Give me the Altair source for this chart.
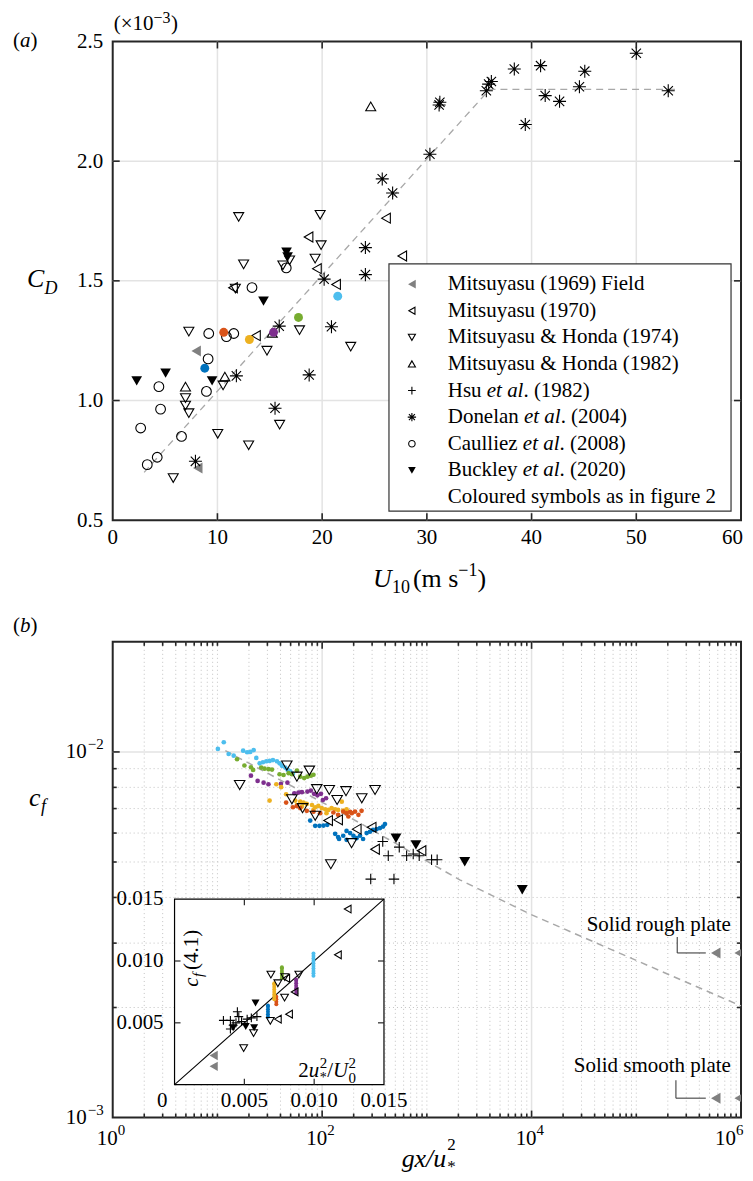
import altair as alt
import pandas as pd

FONT = "Liberation Serif"
FS = 21          # tick / legend font size
FT = 26          # axis title font size
FRAME = "#262626"
GRID = "#e3e3e3"
DOT = "#c2c2c2"
FIT = "#a8a8a8"
W, HA, HB = 630, 480, 477

C_LB, C_GR, C_PU, C_YE, C_OR, C_BL = "#4DBEEE", "#77AC30", "#7E2F8E", "#EDB120", "#D95319", "#0072BD"
GRAY = "#808080"
PLUS = "M-1,0L1,0M0,-1L0,1"
STAR = "M-1,0L1,0M0,-1L0,1M-0.72,-0.72L0.72,0.72M-0.72,0.72L0.72,-0.72"

# ---------------- panel (a): C_D (x 1e-3) against U10 (m/s) ----------------
a_m69_u = [7.97, 8.12]
a_m69_cd = [1.207, 0.718]
a_m70_u = [18.7, 26.1, 27.65, 19.5, 21.33, 11.49, 13.68]
a_m70_cd = [1.683, 1.762, 1.604, 1.551, 1.485, 1.471, 1.271]
a_mh74_u = [12.03, 19.81, 19.9, 16.89, 19.33, 12.5, 16.25, 11.71, 7.27, 17.84,
            22.73, 14.73, 10.54, 6.95, 6.95, 7.27, 15.94, 10.03, 12.98, 5.78]
a_mh74_cd = [1.767, 1.776, 1.649, 1.586, 1.593, 1.569, 1.565, 1.468, 1.288, 1.294,
             1.225, 1.208, 1.063, 1.010, 0.979, 0.947, 0.899, 0.861, 0.813, 0.676]
a_mh82_u = [24.64, 6.95, 10.71, 15.24]
a_mh82_cd = [2.229, 1.058, 1.100, 1.283]
a_don_u = [50.0, 38.35, 40.86, 45.08, 36.16, 35.9, 35.68, 31.24, 31.17, 44.57, 41.3, 42.67,
           39.4, 53.05, 30.29, 25.74, 26.73, 24.13, 24.13, 20.19, 15.9, 20.89, 11.81, 18.76, 15.5, 7.9]
a_don_cd = [2.451, 2.385, 2.399, 2.376, 2.333, 2.322, 2.294, 2.246, 2.235, 2.311, 2.274, 2.250,
            2.153, 2.294, 2.029, 1.926, 1.867, 1.639, 1.526, 1.507, 1.311, 1.308, 1.103, 1.107, 0.968, 0.746]
a_cau_u = [16.57, 13.3, 9.17, 10.86, 11.56, 9.11, 8.95, 4.41, 4.57, 2.67, 6.57, 4.25, 3.3]
a_cau_cd = [1.554, 1.472, 1.280, 1.267, 1.280, 1.174, 1.038, 1.058, 0.964, 0.885, 0.850, 0.763, 0.732]
a_buc_u = [16.6, 16.7, 14.4, 5.05, 2.29, 9.49]
a_buc_cd = [1.620, 1.600, 1.415, 1.114, 1.082, 1.082]
a_col_u = [21.49, 17.74, 15.36, 10.6, 13.05, 8.79]
a_col_cd = [1.436, 1.347, 1.285, 1.285, 1.255, 1.135]
a_col_c = [C_LB, C_GR, C_PU, C_OR, C_YE, C_BL]
a_fit_u = [3.0, 36.0, 54.0]
a_fit_cd = [0.70, 2.30, 2.30]
a_xlab = [0, 10, 20, 30, 40, 50]
a_xlab_last = [60]
a_ylab = [0.5, 1.0, 1.5, 2.0, 2.5]
a_xgrid = [10, 20, 30, 40, 50]
a_ygrid = [1.0, 1.5, 2.0]

leg_parts = [
    [("Mitsuyasu (1969) Field", False)],
    [("Mitsuyasu (1970)", False)],
    [("Mitsuyasu & Honda (1974)", False)],
    [("Mitsuyasu & Honda (1982)", False)],
    [("Hsu ", False), ("et al", True), (". (1982)", False)],
    [("Donelan ", False), ("et al", True), (". (2004)", False)],
    [("Caulliez ", False), ("et al", True), (". (2008)", False)],
    [("Buckley ", False), ("et al", True), (". (2020)", False)],
    [("Coloured symbols as in figure 2", False)],
]
leg_sym = [("triangle-left", True, GRAY, 80), ("triangle-left", False, "black", 50),
           ("triangle-down", False, "black", 50), ("triangle-up", False, "black", 50),
           (PLUS, False, "black", 60), (STAR, False, "black", 70),
           ("circle", False, "black", 42), ("triangle-down", True, "black", 60)]

# ---------------- panel (b): c_f against g x / u*^2 ----------------
b_lb_x = [10.1, 11.5, 12.8, 14.3, 17.6, 19.2, 20.6, 22.2, 23.5, 25.3, 27.2, 29.3, 31.5, 33.9, 37.0,
          39.2, 41.3, 44.4, 46.8, 49.6, 52.6]
b_lb_y = [0.01019, 0.01063, 0.00987, 0.00977, 0.01008, 0.00998, 0.01000, 0.01012, 0.00963, 0.00931,
          0.00937, 0.00943, 0.00945, 0.00950, 0.00943, 0.00931, 0.00916, 0.00906, 0.00893, 0.00885, 0.00871]
b_gr_x = [15.4, 18.1, 20.9, 21.9, 26.2, 28.2, 30.8, 33.2, 39.2, 42.8, 47.8, 51.4, 57.4, 61.7, 67.4,
          72.4, 78.0, 82.6]
b_gr_y = [0.00955, 0.00918, 0.00908, 0.00893, 0.00906, 0.00900, 0.00897, 0.00895, 0.00869, 0.00865,
          0.00875, 0.00869, 0.00889, 0.00856, 0.00848, 0.00856, 0.00861, 0.00866]
b_pu_x = [20.9, 24.2, 27.6, 30.7, 40.4, 46.6, 54.2, 59.4, 64.1, 72.4, 78.0, 83.8, 90.1, 97.4, 101.6, 109]
b_pu_y = [0.00861, 0.00833, 0.00824, 0.00816, 0.00818, 0.00824, 0.00771, 0.00774, 0.00776, 0.00779,
          0.00784, 0.00768, 0.00761, 0.00768, 0.00739, 0.00747]
b_ye_x = [31.5, 36.5, 40.6, 45.3, 55.3, 57.4, 61.7, 64.1, 66.3, 71.3, 80.0, 82.6, 85.8, 92.0, 99.0,
          107, 110, 115, 123, 133, 142, 154, 159, 171]
b_ye_y = [0.00736, 0.00816, 0.00801, 0.00766, 0.00736, 0.00716, 0.00731, 0.00709, 0.00727, 0.00721,
          0.00716, 0.00694, 0.00706, 0.00712, 0.00702, 0.00697, 0.00680, 0.00694, 0.00702, 0.00697,
          0.00694, 0.00731, 0.00691, 0.00697]
b_or_x = [45.3, 52.6, 57.4, 61.7, 71.3, 82.6, 95.7, 128, 142, 159, 171, 178, 185, 192, 206, 222, 238]
b_or_y = [0.00727, 0.00706, 0.00711, 0.00702, 0.00690, 0.00686, 0.00680, 0.00683, 0.00673, 0.00687,
          0.00680, 0.00666, 0.00686, 0.00680, 0.00687, 0.00673, 0.00690]
b_bl_x = [76.9, 85.8, 94.2, 103, 112, 133, 142, 145, 159, 171, 171, 185, 199, 213, 230, 246, 266,
          286, 306, 331, 357, 382, 398]
b_bl_y = [0.00649, 0.00628, 0.00628, 0.00629, 0.00632, 0.00597, 0.00585, 0.00578, 0.00590, 0.00608,
          0.00575, 0.00600, 0.00590, 0.00581, 0.00590, 0.00578, 0.00600, 0.00605, 0.00612, 0.00615,
          0.00619, 0.00625, 0.00635]
b_mh74_x = [16.3, 46.0, 57.4, 75.5, 88.9, 117, 169, 239, 320, 139, 51.4, 65.0, 85.8, 191, 121]
b_mh74_y = [0.00812, 0.00918, 0.00856, 0.00889, 0.00791, 0.00787, 0.00781, 0.00747, 0.00787, 0.00739,
            0.00742, 0.00702, 0.00669, 0.00563, 0.00493]
b_m70_x = [114, 142, 214, 297, 320, 889]
b_m70_y = [0.00649, 0.00652, 0.00615, 0.00622, 0.00542, 0.00537]
b_buc_x = [507, 786, 2300, 8150]
b_buc_y = [0.00581, 0.00557, 0.00501, 0.00420]
b_hsu_x = [379, 428, 545, 641, 741, 845, 1109, 1254, 291, 485]
b_hsu_y = [0.00569, 0.00520, 0.00549, 0.00520, 0.00526, 0.00520, 0.00507, 0.00507, 0.00449, 0.00449]
b_plate_x = [5.74e5, 9.6e5, 5.74e5, 9.6e5]
b_plate_y = [0.00282, 0.00282, 0.00113, 0.00113]
b_fit_x = [11.9, 148, 2061, 9930, 1.0e5, 1.0e6]
b_fit_y = [0.01008, 0.00686, 0.00447, 0.00359, 0.00269, 0.00202]
b_lead_x = [2.46e5, 2.46e5, 2.39e5, 2.39e5]
b_lead_y = [0.00312, 0.00282, 0.001264, 0.00113]
b_lead_x2 = [2.46e5, 4.61e5, 2.39e5, 4.61e5]
b_lead_y2 = [0.00282, 0.00282, 0.00113, 0.00113]
b_note = ["Solid rough plate", "Solid smooth plate"]
b_note_x = [8.0e5, 8.0e5]
b_note_y = [0.00337, 0.00138]
b_xlab = [1, 100, 1e4]
b_xexp = ["0", "2", "4"]
b_xlab_last = [1e6]
b_xexp_last = ["6"]
b_ylab = [1e-2, 1e-3]
b_yexp = ["\u22122", "\u22123"]
b_major_x = [1e2, 1e4]
b_minor_x = [k * 10.0 ** n for n in range(6) for k in range(2, 10)] + [1e1, 1e3, 1e5]
b_major_y = [1e-2]
b_minor_y = [k * 1e-3 for k in range(2, 10)]

# ---------------- inset: c_f (4.1) against 2 u*^2 / U0^2 ----------------
i_lb_x = [0.00995] * 10
i_lb_y = [0.0088, 0.0090, 0.0092, 0.0094, 0.0096, 0.0098, 0.0100, 0.0102, 0.0104, 0.0106]
i_gr_x = [0.00769] * 6
i_gr_y = [0.0086, 0.0088, 0.0090, 0.0092, 0.0094, 0.0095]
i_pu_x = [0.00871] * 7
i_pu_y = [0.0074, 0.0076, 0.0078, 0.0080, 0.0082, 0.0084, 0.0085]
i_ye_x = [0.00714] * 8
i_ye_y = [0.0069, 0.0071, 0.0073, 0.0075, 0.0077, 0.0079, 0.0081, 0.0082]
i_or_x = [0.00729] * 4
i_or_y = [0.0065, 0.0067, 0.0069, 0.0071]
i_bl_x = [0.00669] * 6
i_bl_y = [0.0055, 0.0057, 0.0059, 0.0061, 0.0063, 0.0064]
i_mh74_x = [0.0069, 0.0074, 0.0079, 0.0089, 0.00788, 0.00686, 0.00566, 0.00495]
i_mh74_y = [0.0089, 0.0082, 0.0087, 0.0089, 0.00704, 0.00516, 0.00417, 0.00296]
i_m70_x = [0.0124, 0.0117, 0.0082, 0.0074, 0.0086, 0.0080]
i_m70_y = [0.0142, 0.0105, 0.0057, 0.0053, 0.0075, 0.0086]
i_buc_x = [0.0042, 0.0051, 0.0057, 0.0058]
i_buc_y = [0.0046, 0.0047, 0.0046, 0.0066]
i_hsu_x = [0.0035, 0.0040, 0.0045, 0.0046, 0.0048, 0.0042, 0.0040, 0.0052, 0.0055, 0.0059, 0.0044]
i_hsu_y = [0.0052, 0.0052, 0.0059, 0.0055, 0.0051, 0.0048, 0.0045, 0.0053, 0.0054, 0.0055, 0.0050]
i_m69_x = [0.0028, 0.0028]
i_m69_y = [0.00236, 0.00148]
i_ticks = [0.005, 0.010]
i_lab = [0.005, 0.010, 0.015]
i_lab_t = ["0.005", "0.010", "0.015"]
I_X0, I_X1, I_Y0, I_Y1 = 62, 272, 444, 258   # inset box inside panel (b)

ONE = pd.DataFrame({"k": [0]})
ROMAN = {'H': 722, 's': 389, 'u': 500, ' ': 250, 'D': 722, 'o': 500, 'n': 500, 'e': 444, 'l': 278,
         'a': 444, 'C': 667, 'i': 278, 'z': 444, 'B': 667, 'c': 444, 'k': 500, 'y': 500}
ITAL = {'e': 444, 't': 278, ' ': 250, 'a': 500, 'l': 278}


def tw(s, fs, tbl):
    return sum(tbl.get(c, 500) for c in s) * fs / 1000.0


def pts(xs, ys, X, Y, shape, size, filled=False, color="black", sw=1.1, clip=False):
    df = pd.DataFrame({"x": xs, "y": ys})
    return alt.Chart(df).mark_point(shape=shape, size=size, filled=filled, color=color,
                                    strokeWidth=sw, opacity=1, clip=clip).encode(x=X, y=Y)


def line(xs, ys, X, Y, color, sw, dash=None):
    kw = dict(color=color, strokeWidth=sw)
    if dash:
        kw["strokeDash"] = dash
    return alt.Chart(pd.DataFrame({"x": xs, "y": ys})).mark_line(**kw).encode(x=X, y=Y)


def vrules(vals, X, color, sw, dash=None):
    kw = dict(color=color, strokeWidth=sw)
    if dash:
        kw["strokeDash"] = dash
    return alt.Chart(pd.DataFrame({"x": vals})).mark_rule(**kw).encode(x=X)


def hrules(vals, Y, color, sw, dash=None):
    kw = dict(color=color, strokeWidth=sw)
    if dash:
        kw["strokeDash"] = dash
    return alt.Chart(pd.DataFrame({"y": vals})).mark_rule(**kw).encode(y=Y)


def xticks(vals, X, L, top, bottom, sw=1.6):
    df = pd.DataFrame({"x": vals})
    return [alt.Chart(df).mark_rule(color=FRAME, strokeWidth=sw).encode(x=X, y=alt.value(top), y2=alt.value(top + L)),
            alt.Chart(df).mark_rule(color=FRAME, strokeWidth=sw).encode(x=X, y=alt.value(bottom), y2=alt.value(bottom - L))]


def yticks(vals, Y, L, left, right, sw=1.6):
    df = pd.DataFrame({"y": vals})
    return [alt.Chart(df).mark_rule(color=FRAME, strokeWidth=sw).encode(y=Y, x=alt.value(left), x2=alt.value(left + L)),
            alt.Chart(df).mark_rule(color=FRAME, strokeWidth=sw).encode(y=Y, x=alt.value(right), x2=alt.value(right - L))]


def txt(s, x, y, size=FS, italic=False, align="left", baseline="middle", angle=0, color="black"):
    kw = dict(text=s, font=FONT, fontSize=size, align=align, baseline=baseline, color=color)
    if italic:
        kw["fontStyle"] = "italic"
    if angle:
        kw["angle"] = angle
    return alt.Chart(ONE).mark_text(**kw).encode(x=alt.value(x), y=alt.value(y))


def vlabels(vals, texts, X, y, size, align, baseline, dx=0, dy=0):
    return (alt.Chart(pd.DataFrame({"x": vals, "t": texts}))
            .mark_text(font=FONT, fontSize=size, align=align, baseline=baseline, dx=dx, dy=dy, color="black")
            .encode(x=X, y=alt.value(y), text="t:N"))


# ================= panel (a) =================
AXA_Y = alt.Axis(values=a_ylab, format=".1f", title=None, grid=False, ticks=False, domain=False,
                 labelFont=FONT, labelFontSize=FS, labelColor="black", labelPadding=10, labelFlush=False)
XA = alt.X("x:Q", scale=alt.Scale(domain=[0, 60], nice=False, zero=False), axis=None)
YA = alt.Y("y:Q", scale=alt.Scale(domain=[0.5, 2.5], nice=False, zero=False), axis=AXA_Y)

la = [vrules(a_xgrid, XA, GRID, 1.5), hrules(a_ygrid, YA, GRID, 1.5),
      line(a_fit_u, a_fit_cd, XA, YA, FIT, 1.3, [7, 5]),
      pts(a_m69_u, a_m69_cd, XA, YA, "triangle-left", 120, True, GRAY),
      pts(a_m70_u, a_m70_cd, XA, YA, "triangle-left", 100),
      pts(a_mh74_u, a_mh74_cd, XA, YA, "triangle-down", 100),
      pts(a_mh82_u, a_mh82_cd, XA, YA, "triangle-up", 100),
      pts(a_don_u, a_don_cd, XA, YA, STAR, 170),
      pts(a_cau_u, a_cau_cd, XA, YA, "circle", 95),
      pts(a_buc_u, a_buc_cd, XA, YA, "triangle-down", 115, True)]
for u, c, col in zip(a_col_u, a_col_cd, a_col_c):
    la.append(pts([u], [c], XA, YA, "circle", 80, True, col))

# legend
la.append(alt.Chart(ONE).mark_rect(fill="white", stroke="#333333", strokeWidth=1.2).encode(
    x=alt.value(277), x2=alt.value(620), y=alt.value(223), y2=alt.value(471)))
LEG_Y0, LEG_DY, LEG_SX, LEG_TX = 243.3, 26.67, 300, 336
for i, parts in enumerate(leg_parts):
    ry = LEG_Y0 + i * LEG_DY
    if i < len(leg_sym):
        shp, fil, col, sz = leg_sym[i]
        la.append(alt.Chart(ONE).mark_point(shape=shp, size=sz, filled=fil, color=col, strokeWidth=1.1,
                                            opacity=1).encode(x=alt.value(LEG_SX), y=alt.value(ry)))
    xx = LEG_TX
    for s, it in parts:
        la.append(txt(s.rstrip(), xx, ry, FS, it))
        xx += tw(s, FS, ITAL if it else ROMAN)

la += xticks(a_xgrid, XA, 7, 0, HA) + yticks(a_ygrid, YA, 7, 0, W)
# x tick labels (last one kept inside the page)
la += [vlabels(a_xlab, [str(v) for v in a_xlab], XA, HA + 18, FS, "center", "middle"),
       vlabels(a_xlab_last, [str(v) for v in a_xlab_last], XA, HA + 18, FS, "right", "middle", dx=2)]
# texts
la += [txt("(", -100, 0), txt("a", -93, 0, italic=True), txt(")", -82.5, 0),
       txt("(\u00d710", 1, -18), txt("\u22123", 41, -24, 16), txt(")", 58.5, -18),
       txt("C", -86, 238, FT, True), txt("D", -68.5, 248, 18, True),
       txt("U", 261, 547, FT, True, baseline="alphabetic"),
       txt("10", 280, 553, 18, baseline="alphabetic"),
       txt("(m s", 301, 547, FT, baseline="alphabetic"),
       txt("\u22121", 346.5, 536, 18, baseline="alphabetic"),
       txt(")", 365.7, 547, FT, baseline="alphabetic")]
panel_a = alt.layer(*la).properties(width=W, height=HA)

# ================= panel (b) =================
XB = alt.X("x:Q", scale=alt.Scale(type="log", domain=[1, 1e6], nice=False), axis=None)
YB = alt.Y("y:Q", scale=alt.Scale(type="log", domain=[1e-3, 2e-2], nice=False), axis=None)

lb = [vrules(b_minor_x, XB, DOT, 1, [1, 3]), hrules(b_minor_y, YB, DOT, 1, [1, 3]),
      vrules(b_major_x, XB, GRID, 1.5), hrules(b_major_y, YB, GRID, 1.5),
      line(b_fit_x, b_fit_y, XB, YB, FIT, 1.5, [7, 5])]
for xs, ys, col in [(b_lb_x, b_lb_y, C_LB), (b_gr_x, b_gr_y, C_GR), (b_pu_x, b_pu_y, C_PU),
                    (b_ye_x, b_ye_y, C_YE), (b_or_x, b_or_y, C_OR), (b_bl_x, b_bl_y, C_BL)]:
    lb.append(pts(xs, ys, XB, YB, "circle", 22, True, col))
lb += [pts(b_mh74_x, b_mh74_y, XB, YB, "triangle-down", 110),
       pts(b_m70_x, b_m70_y, XB, YB, "triangle-left", 100),
       pts(b_buc_x, b_buc_y, XB, YB, "triangle-down", 120, True),
       pts(b_hsu_x, b_hsu_y, XB, YB, PLUS, 110),
       pts(b_plate_x, b_plate_y, XB, YB, "triangle-left", 120, True, GRAY, clip=True),
       alt.Chart(pd.DataFrame({"x": b_lead_x, "y": b_lead_y, "x2": b_lead_x2, "y2": b_lead_y2}))
       .mark_rule(color="#404040", strokeWidth=1.1).encode(x=XB, y=YB, x2="x2:Q", y2="y2:Q"),
       alt.Chart(pd.DataFrame({"x": b_note_x, "y": b_note_y, "t": b_note}))
       .mark_text(font=FONT, fontSize=FS, align="right", baseline="middle", color="black")
       .encode(x=XB, y=YB, text="t:N")]
lb += xticks(b_major_x, XB, 7, 0, HB) + xticks(b_minor_x, XB, 4, 0, HB)
lb += yticks(b_major_y, YB, 7, 0, W) + yticks(b_minor_y, YB, 4, 0, W)
# tick labels with exponents
lb += [vlabels(b_xlab, ["10"] * len(b_xlab), XB, HB + 27, FS, "right", "alphabetic", dx=5),
       vlabels(b_xlab, b_xexp, XB, HB + 17, 15, "left", "alphabetic", dx=5),
       vlabels(b_xlab_last, ["10"], XB, HB + 27, FS, "right", "alphabetic", dx=-5),
       vlabels(b_xlab_last, b_xexp_last, XB, HB + 17, 15, "left", "alphabetic", dx=-5),
       alt.Chart(pd.DataFrame({"y": b_ylab, "t": ["10"] * len(b_ylab)}))
       .mark_text(font=FONT, fontSize=FS, align="right", baseline="middle", color="black")
       .encode(y=YB, x=alt.value(-26), text="t:N"),
       alt.Chart(pd.DataFrame({"y": b_ylab, "t": b_yexp}))
       .mark_text(font=FONT, fontSize=15, align="left", baseline="middle", dy=-8, color="black")
       .encode(y=YB, x=alt.value(-25), text="t:N")]
lb += [txt("(", -100, -16), txt("b", -93, -16, italic=True), txt(")", -82.5, -16),
       txt("c", -84, 157, FT, True), txt("f", -72, 166, 18, True),
       txt("gx/u", 289.7, 527, FT, True, baseline="alphabetic"),
       txt("2", 335.5, 510, 17, baseline="alphabetic"),
       txt("*", 335.5, 532, 17, baseline="alphabetic")]
main_b = alt.layer(*lb)

# inset
XI = alt.X("x:Q", scale=alt.Scale(domain=[0, 0.015], range=[I_X0, I_X1], nice=False, zero=False), axis=None)
YI = alt.Y("y:Q", scale=alt.Scale(domain=[0, 0.015], range=[I_Y0, I_Y1], nice=False, zero=False), axis=None)
li = [alt.Chart(pd.DataFrame({"x": [0.0], "y": [0.0], "x2": [0.015], "y2": [0.015]}))
      .mark_rect(fill="white", stroke="black", strokeWidth=1.2).encode(x=XI, y=YI, x2="x2:Q", y2="y2:Q"),
      line([0.0, 0.015], [0.0, 0.015], XI, YI, "black", 1.1)]
for xs, ys, col in [(i_bl_x, i_bl_y, C_BL), (i_or_x, i_or_y, C_OR), (i_ye_x, i_ye_y, C_YE),
                    (i_gr_x, i_gr_y, C_GR), (i_pu_x, i_pu_y, C_PU), (i_lb_x, i_lb_y, C_LB)]:
    li.append(pts(xs, ys, XI, YI, "circle", 16, True, col))
li += [pts(i_mh74_x, i_mh74_y, XI, YI, "triangle-down", 60),
       pts(i_m70_x, i_m70_y, XI, YI, "triangle-left", 60),
       pts(i_buc_x, i_buc_y, XI, YI, "triangle-down", 65, True),
       pts(i_hsu_x, i_hsu_y, XI, YI, PLUS, 80),
       pts(i_m69_x, i_m69_y, XI, YI, "triangle-left", 90, True, GRAY)]
li += xticks(i_ticks, XI, 6, I_Y1, I_Y0, 1.2) + yticks(i_ticks, YI, 6, I_X0, I_X1, 1.2)
li += [vlabels(i_lab, i_lab_t, XI, 460, FS, "center", "middle"),
       alt.Chart(pd.DataFrame({"y": i_lab, "t": i_lab_t}))
       .mark_text(font=FONT, fontSize=FS, align="right", baseline="middle", color="black")
       .encode(y=YI, x=alt.value(51), text="t:N"),
       txt("0", 49.7, 460, align="center"),
       txt("c", 86, 345.7, FS, True, baseline="alphabetic", angle=270),
       txt("f", 91, 336, 15, True, baseline="alphabetic", angle=270),
       txt("(4.1)", 86, 329, FS, baseline="alphabetic", angle=270),
       txt("2", 186, 436, FS, baseline="alphabetic"),
       txt("u", 196.5, 436, FS, True, baseline="alphabetic"),
       txt("2", 207.5, 427, 15, baseline="alphabetic"),
       txt("*", 207.5, 441, 14, baseline="alphabetic"),
       txt("/", 215, 436, FS, baseline="alphabetic"),
       txt("U", 221, 436, FS, True, baseline="alphabetic"),
       txt("2", 236.5, 427, 15, baseline="alphabetic"),
       txt("0", 236.5, 442, 15, baseline="alphabetic")]
inset_b = alt.layer(*li)

panel_b = alt.layer(main_b, inset_b).resolve_scale(x="independent", y="independent").properties(width=W, height=HB)

chart = (alt.vconcat(panel_a, panel_b, spacing=16)
         .properties(padding={"left": 4, "top": -1, "right": 0, "bottom": 0})
         .configure_view(stroke=FRAME, strokeWidth=2))

chart.save("out.html", embed_options={"renderer": "svg", "actions": False})
